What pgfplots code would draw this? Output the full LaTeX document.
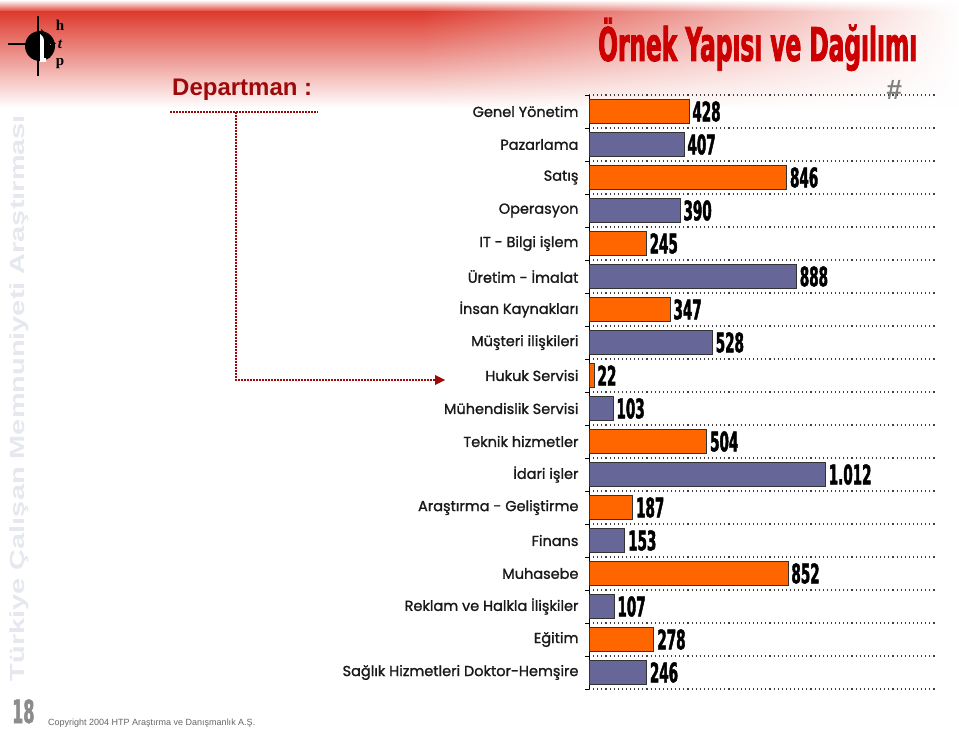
\documentclass[border=0pt]{standalone}
\usepackage{fontspec}
\usepackage{graphicx}
\usepackage{pgfplots}
\pgfplotsset{compat=1.18}
\usetikzlibrary{fadings,arrows.meta}
\setmainfont{Liberation Sans}
\newfontfamily\labfont{Poppins}[FakeBold=1.3]
\newfontfamily\impact{DejaVu Sans}[FakeStretch=0.5,FakeBold=1.6]
\newfontfamily\logofont{Liberation Serif}

\definecolor{barorange}{HTML}{FF6600}
\definecolor{barpurple}{HTML}{666699}
\definecolor{darkred}{HTML}{9E0A0A}
\definecolor{titlered}{HTML}{CC0000}
\definecolor{topred}{HTML}{DE3B2F}
\definecolor{wmgrey}{HTML}{E6E8EF}

\begin{document}
\begin{tikzpicture}[x=1pt,y=1pt]
\path[use as bounding box] (0,0) rectangle (959,-730);
\fill[white] (0,0) rectangle (959,-730);

% red band at the top
\shade[top color=white, bottom color=topred] (0,0) rectangle (959,-12);
\shade[top color=topred, bottom color=white] (0,-12) rectangle (959,-108);
\fill[white, path fading=west] (420,0) rectangle (959,-108);

% logo
\fill[black] (40,-46) circle (15);
\fill[white] (40,-34) -- (51,-45) -- (46,-45) -- (46,-62) -- (40,-62) -- cycle;
\fill[black] (41,-29) -- (56,-44) -- (50,-44) -- (50,-58) -- (44,-58) -- (44,-40) -- cycle;
\draw[line width=1.8pt] (8,-44) -- (26,-44);
\draw[line width=1.8pt] (38,-16) -- (38,-76);
\node[font=\logofont\bfseries\fontsize{15}{17.5}\selectfont, inner sep=0, align=center, anchor=north] at (60,-20)
  {h\\\itshape t\\p};

% vertical watermark
\node[rotate=90, text=wmgrey, inner sep=0] at (19,-398)
  {\resizebox*{566pt}{19pt}{\bfseries Türkiye Çalışan Memnuniyeti Araştırması}};

% titles
\node[anchor=base west, inner sep=0, text=titlered] at (598,-61)
  {\resizebox{319pt}{!}{\impact\bfseries\fontsize{38}{38}\selectfont Örnek Yapısı ve Dağılımı}};
\node[anchor=base west, inner sep=0, text=darkred, font=\bfseries\fontsize{24}{24}\selectfont] at (172,-96) {Departman :};
\node[inner sep=0, text=black!50, font=\bfseries\itshape\fontsize{28}{28}\selectfont] at (894,-90) {\#};

% dotted pointer
\draw[darkred, line width=1.8pt, dash pattern=on 1.6pt off 1.4pt] (170,-112) -- (318,-112);
\draw[darkred, line width=1.8pt, dash pattern=on 1.6pt off 1.4pt] (236,-112) -- (236,-380) -- (436,-380);
\fill[darkred] (445,-380) -- (435,-375) -- (435,-385) -- cycle;

% footer
\node[anchor=base west, inner sep=0, text=black!45] at (12,-723) {\impact\bfseries\fontsize{32}{32}\selectfont 18};
\node[anchor=base west, inner sep=0, text=black!60, font=\fontsize{9}{9}\selectfont] at (48,-725) {Copyright 2004 HTP Araştırma ve Danışmanlık A.Ş.};

\begin{axis}[
    at={(589pt,-689pt)}, anchor=south west,
    scale only axis, width=348pt, height=594pt,
    xbar, bar width=24pt, bar shift=0pt,
    xmin=0, xmax=1490,
    ymin=-0.5, ymax=17.5, y dir=reverse,
    axis y line*=left, axis x line=none,
    ytick={0,...,17},
    yticklabels={Genel Yönetim, Pazarlama, Satış, Operasyon, IT - Bilgi işlem,
      Üretim - İmalat, İnsan Kaynakları, Müşteri ilişkileri, Hukuk Servisi,
      Mühendislik Servisi, Teknik hizmetler, İdari işler, Araştırma - Geliştirme,
      Finans, Muhasebe, Reklam ve Halkla İlişkiler, Eğitim,
      Sağlık Hizmetleri Doktor-Hemşire},
    yticklabel style={font=\labfont\fontsize{14.5}{14.5}\selectfont, text=black!90, xshift=-7pt},
    major tick length=0pt,
    minor ytick={-0.5,0.5,...,17.5},
    minor tick length=4pt, tick align=outside,
    yminorgrids,
    minor grid style={black!75, line width=1.1pt, dash pattern=on 1.1pt off 3pt},
    axis line style={black, line width=1pt},
    minor tick style={black, line width=1pt},
    nodes near coords={\pgfmathprintnumber[assume math mode=true,1000 sep={.}]{\pgfplotspointmeta}},
    nodes near coords style={font=\impact\bfseries\fontsize{27}{27}\selectfont, text=black, inner sep=1pt, xshift=2pt},
    clip=false,
]
\addplot[fill=barorange, draw=black!80, line width=0.9pt] coordinates {
  (428,0) (846,2) (245,4) (347,6) (22,8) (504,10) (187,12) (852,14) (278,16)
};
\addplot[fill=barpurple, draw=black!80, line width=0.9pt] coordinates {
  (407,1) (390,3) (888,5) (528,7) (103,9) (1012,11) (153,13) (107,15) (246,17)
};
\end{axis}
\end{tikzpicture}
\end{document}
